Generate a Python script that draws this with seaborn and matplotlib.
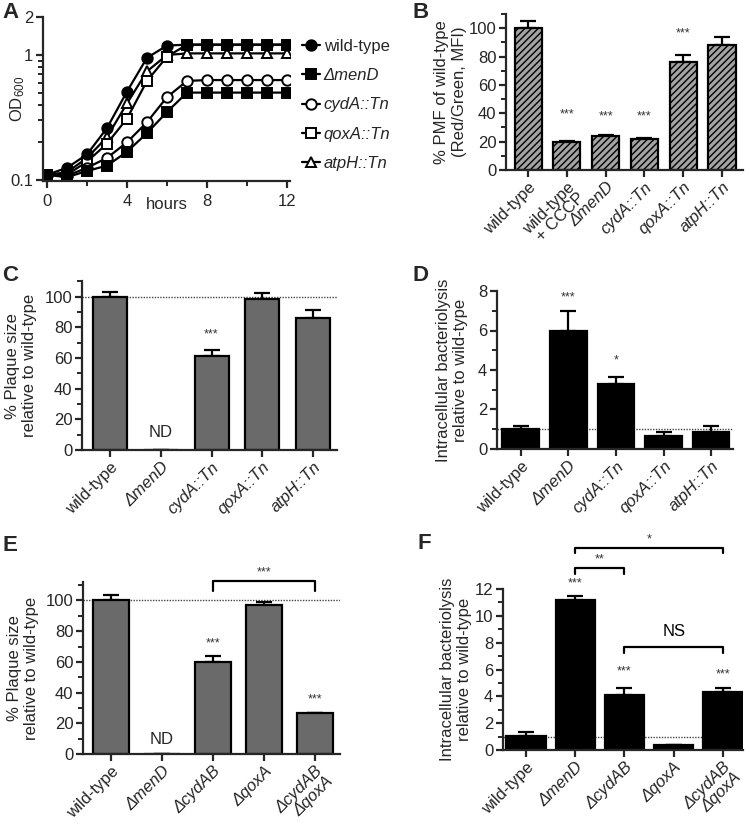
import numpy as np
import pandas as pd
import seaborn as sns
import matplotlib.pyplot as plt
from matplotlib.ticker import FixedLocator, NullFormatter, MultipleLocator

# ---- data ----
hours = list(range(13))
od_wt = [0.11, 0.125, 0.16, 0.26, 0.51, 0.95, 1.19, 1.21, 1.21, 1.21, 1.21, 1.21, 1.21]
od_menD = [0.11, 0.105, 0.118, 0.13, 0.168, 0.237, 0.35, 0.50, 0.50, 0.50, 0.50, 0.50, 0.50]
od_cydA = [0.11, 0.108, 0.125, 0.15, 0.20, 0.29, 0.46, 0.62, 0.63, 0.63, 0.63, 0.63, 0.63]
od_qoxA = [0.11, 0.11, 0.14, 0.195, 0.31, 0.62, 0.97, 1.21, 1.21, 1.21, 1.21, 1.21, 1.21]
od_atpH = [0.11, 0.115, 0.15, 0.22, 0.41, 0.74, 1.0, 1.03, 1.03, 1.03, 1.03, 1.03, 1.03]

pmf_labels = ['wild-type', 'wild-type\n+ CCCP', '\u0394menD', 'cydA::Tn', 'qoxA::Tn', 'atpH::Tn']
pmf_vals = [100, 19.8, 24.3, 21.8, 76, 88.3]
pmf_err = [5, 1, 0.6, 1, 5, 5.5]
pmf_stars = ['', '***', '***', '***', '***', '']

tn_labels = ['wild-type', '\u0394menD', 'cydA::Tn', 'qoxA::Tn', 'atpH::Tn']
plaque_tn = [100, 0, 61.3, 98.3, 85.9]
plaque_tn_err = [3.3, 0, 3.9, 3.9, 5.4]
plaque_tn_stars = ['', '', '***', '', '']

lysis_tn = [1.0, 5.99, 3.3, 0.67, 0.86]
lysis_tn_err = [0.14, 0.99, 0.34, 0.17, 0.28]
lysis_tn_stars = ['', '***', '*', '', '']

del_labels = ['wild-type', '\u0394menD', '\u0394cydAB', '\u0394qoxA', '\u0394cydAB\n\u0394qoxA']
plaque_del = [100, 0, 60.2, 96.7, 26.5]
plaque_del_err = [3.6, 0, 3.7, 2.0, 0.4]
plaque_del_stars = ['', '', '***', '', '***']

lysis_del = [1.04, 11.15, 4.1, 0.37, 4.3]
lysis_del_err = [0.33, 0.3, 0.5, 0.0, 0.3]
lysis_del_stars = ['', '***', '***', '', '***']

sns.set_style('ticks')
plt.rcParams['font.family'] = ['Liberation Sans', 'DejaVu Sans']
plt.rcParams['mathtext.fontset'] = 'custom'
plt.rcParams['mathtext.rm'] = 'Liberation Sans'
plt.rcParams['mathtext.it'] = 'Liberation Sans:italic'
plt.rcParams['font.size'] = 12
plt.rcParams['hatch.linewidth'] = 1.0

W, H = 750, 825
FS = 12


def box(l, t, r, b):
    return [l / W, 1 - b / H, (r - l) / W, (b - t) / H]


def style_axis(ax):
    sns.despine(ax=ax)
    for s in ['left', 'bottom']:
        ax.spines[s].set_linewidth(1.6)
    ax.tick_params(which='major', width=1.6, length=5, labelsize=FS, pad=2)
    ax.tick_params(which='minor', width=1.4, length=3.5)


def italic_ticks(ax):
    for t in ax.get_xticklabels():
        if not t.get_text().startswith('wild-type'):
            t.set_fontstyle('italic')
        t.set_linespacing(0.95)


def bar_panel(ax, cats, vals, errs, stars, color, width, xlim, ylim, ref, star_y, hatch=None):
    df = pd.DataFrame({'strain': cats, 'value': vals})
    if ref is not None:
        ax.axhline(ref, ls=(0, (1, 1)), color='#444444', lw=1.0, zorder=0.5)
    sns.barplot(data=df, x='strain', y='value', color=color, edgecolor='black',
                linewidth=1.6, width=width, saturation=1, hatch=hatch, ax=ax, zorder=2)
    x = np.arange(len(cats))
    v = np.array(vals, dtype=float)
    e = np.array(errs, dtype=float)
    ax.errorbar(x, v, yerr=[np.zeros_like(e), e], fmt='none', ecolor='black',
                elinewidth=1.6, capsize=6, capthick=1.6, zorder=1)
    for i, s in enumerate(stars):
        if s:
            ax.text(i, star_y[i], s, ha='center', va='center', fontsize=9, color='#333333')
    ax.set_xlim(*xlim)
    ax.set_ylim(*ylim)
    ax.set_xlabel('')
    style_axis(ax)
    ax.set_xticks(x)
    ax.set_xticklabels(cats, rotation=45, ha='right', rotation_mode='anchor', fontsize=FS)
    italic_ticks(ax)


def bracket(ax, x1, x2, y_top, y_leg, text, text_y, fs=9, color='#333333'):
    ax.plot([x1, x1, x2, x2], [y_leg, y_top, y_top, y_leg], color='black', lw=1.6, clip_on=False)
    ax.text((x1 + x2) / 2, text_y, text, ha='center', va='center', fontsize=fs, color=color)


fig = plt.figure(figsize=(7.5, 8.25), dpi=100)

# ---- A ----
axA = fig.add_axes(box(43, 17.4, 290, 181))
series = [('wild-type', od_wt, 'o', 'black'),
          ('\u0394menD', od_menD, 's', 'black'),
          ('cydA::Tn', od_cydA, 'o', 'white'),
          ('qoxA::Tn', od_qoxA, 's', 'white'),
          ('atpH::Tn', od_atpH, '^', 'white')]
for name, ys, mk, fc in series[::-1]:
    sns.lineplot(x=hours, y=ys, ax=axA, color='black', lw=1.6, marker=mk,
                 markersize=7.5, markerfacecolor=fc, markeredgecolor='black',
                 markeredgewidth=1.4, label=name)
axA.set_yscale('log')
axA.set_ylim(0.098, 2)
axA.set_xlim(-0.2, 12.15)
axA.yaxis.set_major_locator(FixedLocator([0.1, 1, 2]))
axA.set_yticklabels(['0.1', '1', '2'])
axA.yaxis.set_minor_locator(FixedLocator([0.2, 0.3, 0.4, 0.5, 0.6, 0.7, 0.8, 0.9]))
axA.yaxis.set_minor_formatter(NullFormatter())
axA.set_xticks([0, 4, 8, 12])
axA.xaxis.set_minor_locator(FixedLocator([2, 6, 10]))
style_axis(axA)
axA.tick_params(axis='x', pad=4)
axA.set_xlabel('hours', fontsize=FS, labelpad=-8)
axA.set_ylabel('OD$_{600}$', fontsize=FS)
axA.yaxis.set_label_coords(-0.065, 0.5)
h, l = axA.get_legend_handles_labels()
order = [4, 3, 2, 1, 0]
leg = axA.legend([h[i] for i in order], [l[i] for i in order], loc='upper left',
                 bbox_to_anchor=(302 / W, 1 - 39 / H), bbox_transform=fig.transFigure,
                 frameon=False, fontsize=FS, handlelength=1.1, handletextpad=0.2,
                 labelspacing=0.85, borderpad=0, borderaxespad=0)
for t in leg.get_texts():
    if t.get_text() != 'wild-type':
        t.set_fontstyle('italic')

# ---- B ----
axB = fig.add_axes(box(506, 14, 743, 170))
bar_panel(axB, pmf_labels, pmf_vals, pmf_err, pmf_stars, '#a3a3a3', 0.7,
          (-0.57, 5.54), (0, 110), None, [35, 39, 37.6, 37.6, 96.6, 0], hatch='/////')
axB.yaxis.set_major_locator(MultipleLocator(20))
axB.yaxis.set_minor_locator(MultipleLocator(10))
axB.set_ylabel('% PMF of wild-type\n(Red/Green, MFI)', fontsize=FS)
axB.yaxis.set_label_coords(-0.165, 0.5)

# ---- C ----
axC = fig.add_axes(box(82, 281.4, 337, 450))
bar_panel(axC, tn_labels, plaque_tn, plaque_tn_err, plaque_tn_stars, '#6a6a6a', 0.67,
          (-0.55, 4.47), (0, 110), 100, [0, 0, 75.7, 0, 0])
axC.text(1, 11.5, 'ND', ha='center', va='center', fontsize=FS)
axC.yaxis.set_major_locator(MultipleLocator(20))
axC.yaxis.set_minor_locator(MultipleLocator(10))
axC.set_ylabel('% Plaque size\nrelative to wild-type', fontsize=FS)
axC.yaxis.set_label_coords(-0.176, 0.5)

# ---- D ----
axD = fig.add_axes(box(497, 291, 733, 449))
bar_panel(axD, tn_labels, lysis_tn, lysis_tn_err, lysis_tn_stars, 'black', 0.77,
          (-0.5, 4.46), (0, 8), 1, [0, 7.67, 4.5, 0, 0])
axD.yaxis.set_major_locator(MultipleLocator(2))
axD.yaxis.set_minor_locator(MultipleLocator(1))
axD.set_ylabel('Intracellular bacteriolysis\nrelative to wild-type', fontsize=FS)
axD.yaxis.set_label_coords(-0.123, 0.5)

# ---- E ----
axE = fig.add_axes(box(83, 582, 340, 754))
bar_panel(axE, del_labels, plaque_del, plaque_del_err, plaque_del_stars, '#6a6a6a', 0.69,
          (-0.55, 4.49), (0, 112), 100, [0, 0, 72.2, 0, 35.6])
axE.text(1, 9.5, 'ND', ha='center', va='center', fontsize=FS)
axE.yaxis.set_major_locator(MultipleLocator(20))
axE.yaxis.set_minor_locator(MultipleLocator(10))
axE.set_ylabel('% Plaque size\nrelative to wild-type', fontsize=FS)
axE.yaxis.set_label_coords(-0.171, 0.5)
bracket(axE, 2, 4, 112.4, 105.9, '***', 118.5)

# ---- F ----
axF = fig.add_axes(box(503, 589, 743, 750))
bar_panel(axF, del_labels, lysis_del, lysis_del_err, lysis_del_stars, 'black', 0.8,
          (-0.47, 4.41), (0, 12), 1, [0, 12.45, 5.85, 0, 5.6])
axF.yaxis.set_major_locator(MultipleLocator(2))
axF.yaxis.set_minor_locator(MultipleLocator(1))
axF.set_ylabel('Intracellular bacteriolysis\nrelative to wild-type', fontsize=FS)
axF.yaxis.set_label_coords(-0.129, 0.5)
bracket(axF, 1, 2, 13.6, 13.1, '**', 14.2)
bracket(axF, 1, 4, 15.06, 14.7, '*', 15.7)
bracket(axF, 2, 4, 7.7, 7.2, 'NS', 8.8, fs=FS, color='black')

# ---- panel letters ----
for letter, x, y in [('A', 2, 2), ('B', 412, 2), ('C', 2, 265), ('D', 412, 265),
                     ('E', 2, 535), ('F', 417, 533)]:
    fig.text(x / W, 1 - y / H, letter, ha='left', va='top', fontsize=16, fontweight='bold')

fig.savefig('out.png', dpi=100)
